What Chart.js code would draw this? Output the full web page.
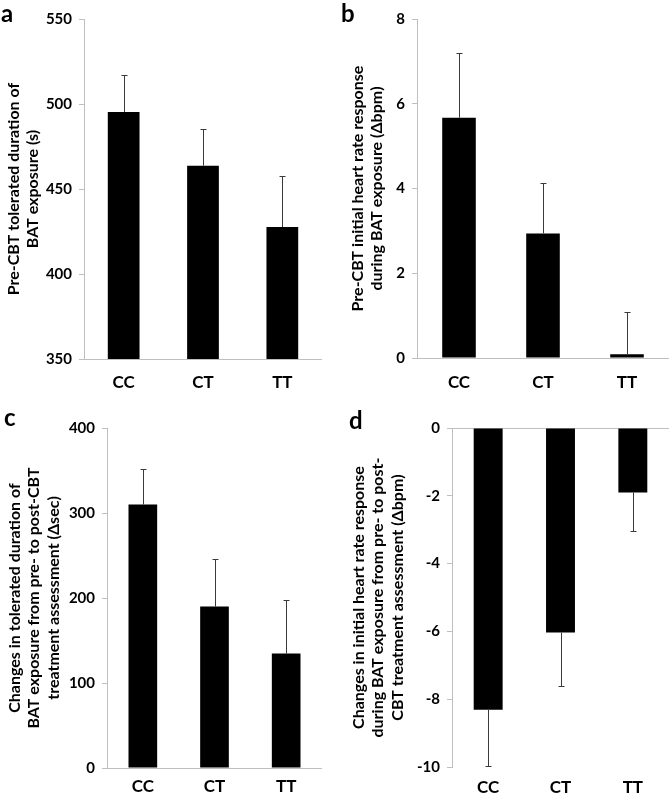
<!DOCTYPE html>
<html>
<head>
<meta charset="utf-8">
<script src="https://cdn.jsdelivr.net/npm/chart.js@4.4.1/dist/chart.umd.min.js"></script>
<style>
  body { margin: 0; background: #fff; width: 672px; height: 797px; position: relative; overflow: hidden; font-family: Lato, "Open Sans", sans-serif; }
  .panel { position: absolute; }
  .letter { position: absolute; font-weight: bold; font-size: 24px; line-height: 1; color: #000; }
</style>
</head>
<body>

<script>
// genotype groups
const genotypes = ["CC", "CT", "TT"];

// a: pre-CBT tolerated duration (s)
const preDuration = [495.3, 463.7, 427.6];
const preDurationErr = [21.6, 21.6, 29.9];

// b: pre-CBT initial heart rate response (Δbpm)
const preHeartRate = [5.67, 2.94, 0.09];
const preHeartRateErr = [1.52, 1.20, 0.99];

// c: change in tolerated duration (Δsec)
const changeDuration = [309.9, 189.9, 134.6];
const changeDurationErr = [42.3, 55.6, 63.5];

// d: change in initial heart rate response (Δbpm)
const changeHeartRate = [-8.31, -6.03, -1.90];
const changeHeartRateErr = [1.67, 1.59, 1.14];

const AXIS_GREY = "#bfbfbf";
const FONT = "Lato, 'Open Sans', sans-serif";

const panels = [
  { letter: "a", lx: 1, ly: 1, left: 0, top: 0, w: 336, h: 400, axisX: 84, plotTop: 19, plotBottom: 359, plotRight: 322,
    title: ["Pre-CBT tolerated duration of", "BAT exposure (s)"], titlePad: 4, labelPad: 13,
    min: 350, max: 550, step: 50, base: 350, values: preDuration, errors: preDurationErr },
  { letter: "b", lx: 341, ly: 1, left: 336, top: 0, w: 336, h: 400, axisX: 81, plotTop: 19, plotBottom: 358, plotRight: 333,
    title: ["Pre-CBT initial heart rate response", "during BAT exposure (Δbpm)"], titlePad: 12, labelPad: 14,
    min: 0, max: 8, step: 2, base: 0, values: preHeartRate, errors: preHeartRateErr },
  { letter: "c", lx: 4, ly: 405, left: 0, top: 400, w: 336, h: 397, axisX: 107, plotTop: 28, plotBottom: 368, plotRight: 322,
    title: ["Changes in tolerated duration of", "BAT exposure from pre- to post-CBT", "treatment assessment (Δsec)"], titlePad: 5, labelPad: 8,
    min: 0, max: 400, step: 100, base: 0, values: changeDuration, errors: changeDurationErr },
  { letter: "d", lx: 349, ly: 408, left: 336, top: 400, w: 336, h: 397, axisX: 116, plotTop: 28, plotBottom: 367, plotRight: 333,
    title: ["Changes in initial heart rate response", "during BAT exposure from pre- to post-", "CBT treatment assessment (Δbpm)"], titlePad: 13, labelPad: 10,
    min: -10, max: 0, step: 2, base: 0, values: changeHeartRate, errors: changeHeartRateErr }
];

const errorBars = {
  id: "errorBars",
  afterDatasetsDraw(chart) {
    const ctx = chart.ctx;
    const y = chart.scales.y;
    const ds = chart.data.datasets[0];
    const meta = chart.getDatasetMeta(0);
    ctx.save();
    ctx.strokeStyle = "#3a3a3a";
    ctx.lineWidth = 1;
    meta.data.forEach((bar, i) => {
      const v = ds.data[i];
      const e = ds.errors[i];
      const end = Math.round(y.getPixelForValue(v >= 0 ? v + e : v - e)) + 0.5;
      const x = Math.round(bar.x) + 0.5;
      ctx.beginPath();
      ctx.moveTo(x, bar.y);
      ctx.lineTo(x, end);
      ctx.moveTo(x - 3, end);
      ctx.lineTo(x + 3, end);
      ctx.stroke();
    });
    ctx.restore();
  }
};

panels.forEach(p => {
  const wrap = document.createElement("div");
  wrap.className = "panel";
  wrap.style.left = p.left + "px";
  wrap.style.top = p.top + "px";
  const canvas = document.createElement("canvas");
  canvas.width = p.w;
  canvas.height = p.h;
  canvas.style.width = p.w + "px";
  canvas.style.height = p.h + "px";
  wrap.appendChild(canvas);
  document.body.appendChild(wrap);

  const letter = document.createElement("div");
  letter.className = "letter";
  letter.textContent = p.letter;
  letter.style.left = p.lx + "px";
  letter.style.top = p.ly + "px";
  document.body.appendChild(letter);

  new Chart(canvas, {
    type: "bar",
    data: {
      labels: genotypes,
      datasets: [{
        data: p.values,
        errors: p.errors,
        backgroundColor: "#000",
        borderWidth: 0,
        barPercentage: 0.4,
        categoryPercentage: 1.0
      }]
    },
    options: {
      responsive: false,
      devicePixelRatio: 1,
      animation: false,
      layout: { padding: { top: p.plotTop, right: p.w - p.plotRight, left: 0, bottom: 0 } },
      plugins: { legend: { display: false }, tooltip: { enabled: false } },
      scales: {
        x: {
          grid: { display: false, drawTicks: false },
          border: { display: false },
          ticks: { color: "#000", font: { family: FONT, size: 17, weight: "bold" }, padding: p.labelPad },
          afterFit(scale) { scale.height = p.h - p.plotBottom; }
        },
        y: {
          min: p.min,
          max: p.max,
          ticks: { stepSize: p.step, color: "#000", font: { family: FONT, size: 15, weight: "bold" }, padding: 7 },
          grid: {
            color: c => (c.tick && c.tick.value === p.base) ? AXIS_GREY : "rgba(0,0,0,0)",
            tickColor: AXIS_GREY,
            tickLength: 5,
            drawTicks: true
          },
          border: { display: true, color: AXIS_GREY, width: 1 },
          title: {
            display: true,
            text: p.title,
            color: "#000",
            font: { family: FONT, size: 16, weight: "bold", lineHeight: 1.22 },
            padding: { top: p.titlePad, bottom: 0 }
          },
          afterFit(scale) { scale.width = p.axisX; }
        }
      }
    },
    plugins: [errorBars]
  });
});
</script>
</body>
</html>
